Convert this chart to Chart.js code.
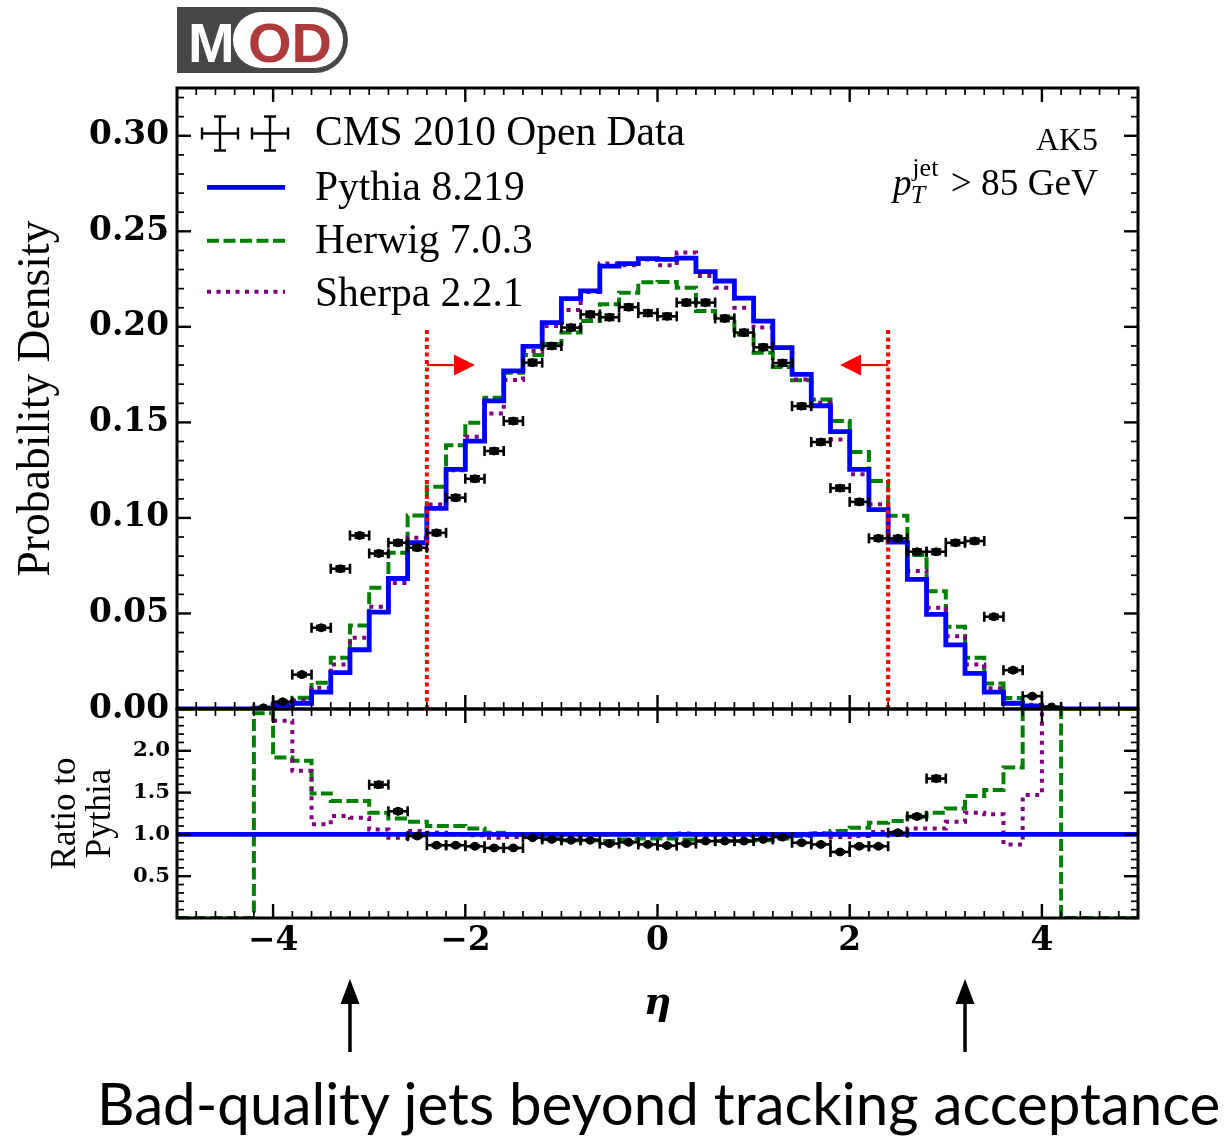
<!DOCTYPE html>
<html>
<head>
<meta charset="utf-8">
<script src="https://cdn.jsdelivr.net/npm/chart.js@4.4.0/dist/chart.umd.min.js"></script>
<style>
html,body{margin:0;padding:0;background:#fff;}
#wrap{position:relative;width:1228px;height:1137px;overflow:hidden;background:#fff;}
canvas{position:absolute;left:0;top:0;}
#logo{position:absolute;left:177px;top:7px;width:171px;height:66px;background:#474747;border-radius:0 33px 33px 0;}
#lm{position:absolute;left:11px;top:7.6px;line-height:56px;font-size:56px;font-weight:bold;font-family:'Liberation Sans',sans-serif;color:#fff;}
#pill{position:absolute;left:56px;top:4.7px;width:110px;height:56.6px;background:#fff;border-radius:28.3px;}
#od{position:absolute;left:15px;top:2.9px;line-height:56px;font-size:56px;font-weight:bold;font-family:'Liberation Sans',sans-serif;color:#ad3b3b;}
#caption{position:absolute;left:97px;white-space:nowrap;font-family:Lato,sans-serif;color:#000;}
</style>
</head>
<body>
<div id="wrap">
  <canvas id="main" width="1228" height="1137"></canvas>
  <canvas id="ratio" width="1228" height="1137"></canvas>
  <div id="logo"><span id="lm">M</span><div id="pill"><span id="od">OD</span></div></div>
  <div id="caption">Bad-quality jets beyond tracking acceptance</div>
</div>
<script>
// ---------------- data ----------------
const binCenters = [-4.9,-4.7,-4.5,-4.3,-4.1,-3.9,-3.7,-3.5,-3.3,-3.1,-2.9,-2.7,-2.5,-2.3,-2.1,-1.9,-1.7,-1.5,-1.3,-1.1,-0.9,-0.7,-0.5,-0.3,-0.1,
                    0.1,0.3,0.5,0.7,0.9,1.1,1.3,1.5,1.7,1.9,2.1,2.3,2.5,2.7,2.9,3.1,3.3,3.5,3.7,3.9,4.1,4.3,4.5,4.7,4.9];
const binHalfWidth = 0.1;

const pythia = [0,0,0,0.0001,0.0005,0.0020,0.0030,0.0088,0.0190,0.0310,0.0507,0.0683,0.0870,0.1050,0.1254,0.1402,0.1613,0.1770,0.1898,0.2022,0.2148,0.2188,0.2318,0.2331,0.2357,
                0.2353,0.2360,0.2289,0.2240,0.2150,0.2030,0.1891,0.1751,0.1587,0.1452,0.1254,0.1043,0.0873,0.0678,0.0495,0.0336,0.0186,0.0088,0.0030,0.0015,0.0003,0.0001,0,0,0];
const herwig = [0,0,0,0,0.0008,0.0030,0.0059,0.0137,0.0268,0.0437,0.0634,0.0818,0.1013,0.1163,0.1380,0.1498,0.1629,0.1760,0.1853,0.1910,0.1970,0.2030,0.2118,0.2179,0.2233,
                0.2235,0.2205,0.2083,0.2048,0.1960,0.1865,0.1790,0.1720,0.1620,0.1507,0.1345,0.1193,0.1011,0.0806,0.0616,0.0430,0.0268,0.0134,0.0057,0.0018,0.0006,0,0,0,0];
const sherpa = [0,0,0,0,0.0003,0.0030,0.0045,0.0111,0.0233,0.0373,0.0535,0.0660,0.0896,0.1070,0.1250,0.1425,0.1547,0.1722,0.1873,0.2004,0.2088,0.2182,0.2332,0.2322,0.2353,
                0.2322,0.2389,0.2266,0.2205,0.2100,0.1996,0.1890,0.1725,0.1603,0.1411,0.1228,0.1071,0.0885,0.0722,0.0530,0.0381,0.0233,0.0108,0.0027,0.0022,0.0008,0,0,0,0];
const cmsData = [null,null,null,null,0.0006,0.0038,0.0180,0.0425,0.0734,0.0908,0.0814,0.0870,0.0844,0.0922,0.1106,0.1205,0.1350,0.1507,0.1813,0.1900,0.1996,0.2065,0.2050,0.2103,0.2072,
                 0.2055,0.2127,0.2127,0.2044,0.1970,0.1893,0.1811,0.1585,0.1397,0.1156,0.1084,0.0893,0.0893,0.0823,0.0823,0.0870,0.0879,0.0483,0.0203,0.0067,0.0011,null,null,null,null];
const cmsErr = [0,0,0,0,0.0003,0.0005,0.0008,0.0010,0.0012,0.0012,0.0012,0.0012,0.0012,0.0012,0.0013,0.0013,0.0013,0.0013,0.0014,0.0014,0.0014,0.0014,0.0014,0.0014,0.0014,
                0.0014,0.0014,0.0014,0.0014,0.0014,0.0014,0.0014,0.0013,0.0013,0.0013,0.0013,0.0012,0.0012,0.0012,0.0012,0.0012,0.0012,0.0010,0.0008,0.0005,0.0003,0,0,0,0];

const ratioHerwig = [0,0,0,0,2.45,1.92,1.88,1.49,1.40,1.40,1.26,1.19,1.15,1.10,1.10,1.07,1.02,1.00,0.97,0.95,0.93,0.93,0.92,0.94,0.95,
                     0.95,0.94,0.92,0.92,0.92,0.93,0.95,0.98,1.01,1.04,1.08,1.14,1.16,1.21,1.26,1.31,1.46,1.53,1.80,3.00,3.00,0,0,0,0];
const ratioSherpa = [null,null,null,null,null,2.36,1.76,1.12,1.22,1.20,1.06,0.96,1.04,1.02,1.00,0.99,0.96,0.97,0.99,0.99,0.97,1.00,1.00,1.00,1.00,
                     0.99,1.01,0.99,0.98,0.98,0.98,1.00,0.99,1.01,0.97,0.98,1.03,1.02,1.07,1.07,1.15,1.26,1.24,0.88,1.47,3.00,null,null,null,null];
const ratioData = [null,null,null,null,null,null,null,null,null,null,1.595,1.276,0.98,0.87,0.87,0.858,0.838,0.838,0.96,0.94,0.93,0.93,0.89,0.905,0.88,
                   0.866,0.89,0.92,0.92,0.92,0.94,0.967,0.90,0.88,0.79,0.858,0.858,1.02,1.215,1.668,null,null,null,null,null,null,null,null,null,null];
const ratioDataErr = [0,0,0,0,0,0,0,0,0,0,0.03,0.02,0.015,0.012,0.012,0.01,0.01,0.01,0.01,0.01,0.01,0.01,0.01,0.01,0.01,
                      0.01,0.01,0.01,0.01,0.01,0.01,0.01,0.01,0.01,0.01,0.012,0.012,0.015,0.02,0.03,0,0,0,0,0,0,0,0,0,0];
const pythiaReference = 1.0;

const xTickValues = [-4,-2,0,2,4];
const xTickLabels = ['\u22124','\u22122','0','2','4'];
const yTickValues = [0,0.05,0.10,0.15,0.20,0.25,0.30];
const yTickLabels = ['0.00','0.05','0.10','0.15','0.20','0.25','0.30'];
const ratioTickValues = [0.5,1.0,1.5,2.0];
const ratioTickLabels = ['0.5','1.0','1.5','2.0'];

const legendLabels = ['CMS 2010 Open Data','Pythia 8.219','Herwig 7.0.3','Sherpa 2.2.1'];
const jetAlgoLabel = 'AK5';
const cutEta = 2.4, cutLineTop = 0.2, cutArrowY = 0.18, cutArrowLen = 0.5;
const badJetEta = 3.2;

// ---------------- styles ----------------
const C_BLUE = '#0000ff', C_GREEN = '#008000', C_PURPLE = '#800080', C_RED = '#ff0000';
const SERIF = "'Liberation Serif', serif";
const TICKSERIF = "'DejaVu Serif', serif";
function fitSize(text, style, family, target){
  const c = document.createElement('canvas').getContext('2d');
  c.font = style + ' 100px ' + family;
  return 100 * target / c.measureText(text).width;
}
const tickSize = fitSize('0.30','bold',TICKSERIF,80);
const ratioTickSize = fitSize('2.0','bold',TICKSERIF,37);
const legendSize = fitSize(legendLabels[0],'normal',SERIF,370);
const annSize = fitSize(jetAlgoLabel,'normal',SERIF,62);
const yTitleSize = fitSize('Probability Density','normal',SERIF,356);
const ratioTitleSize = fitSize('Ratio to','normal',SERIF,112);
const capSize = fitSize('Bad-quality jets beyond tracking acceptance','normal','Lato',1125);

const cap = document.getElementById('caption');
cap.style.fontSize = capSize + 'px';
cap.style.lineHeight = (capSize*1.2) + 'px';
cap.style.top = (1125 - 0.987*capSize) + 'px';

Chart.defaults.color = '#000';
Chart.defaults.animation = false;

function histPoints(vals){
  const pts = [];
  vals.forEach((v,i)=>{
    const lo = binCenters[i]-binHalfWidth, hi = binCenters[i]+binHalfWidth;
    if (v === null){ pts.push({x:lo,y:null}); return; }
    pts.push({x:lo,y:v},{x:hi,y:v});
  });
  return pts;
}
function pointData(vals){ return binCenters.map((c,i)=>({x:c,y:vals[i]})); }

function seg(ctx,x0,y0,x1,y1){ ctx.beginPath(); ctx.moveTo(x0,y0); ctx.lineTo(x1,y1); ctx.stroke(); }

// frame + inward ticks
const framePlugin = {
  id:'frame',
  afterDraw(chart, args, o){
    const {ctx, chartArea:a, scales:{x,y}} = chart;
    ctx.save();
    ctx.strokeStyle = '#000';
    for (let k=0;k<=50;k++){
      const v = -5 + 0.2*k, px = x.getPixelForValue(v);
      const major = (k % 10 === 5);
      const len = major ? 14 : 7;
      ctx.lineWidth = major ? 2.4 : 1.7;
      seg(ctx,px,a.bottom,px,a.bottom-len);
      seg(ctx,px,a.top,px,a.top+len);
    }
    for (let k=0;k<=o.yCount;k++){
      const v = k*o.yMinor, py = y.getPixelForValue(v);
      if (py < a.top-0.5) continue;
      const major = (k % 5 === 0);
      const len = major ? 14 : 7;
      ctx.lineWidth = major ? 2.4 : 1.7;
      seg(ctx,a.left,py,a.left+len,py);
      seg(ctx,a.right,py,a.right-len,py);
    }
    ctx.lineWidth = 3;
    ctx.strokeRect(a.left,a.top,a.right-a.left,a.bottom-a.top);
    ctx.restore();
  }
};

// error bars for data
const errPlugin = {
  id:'err',
  afterDatasetsDraw(chart, args, o){
    const {ctx, chartArea:a, scales:{x,y}} = chart;
    ctx.save();
    ctx.beginPath(); ctx.rect(a.left,a.top,a.right-a.left,a.bottom-a.top); ctx.clip();
    ctx.strokeStyle = '#000'; ctx.lineWidth = 2.6;
    o.values.forEach((v,i)=>{
      if (v === null) return;
      const cx = x.getPixelForValue(binCenters[i]);
      const x0 = x.getPixelForValue(binCenters[i]-binHalfWidth);
      const x1 = x.getPixelForValue(binCenters[i]+binHalfWidth);
      const py = y.getPixelForValue(v);
      const y0 = y.getPixelForValue(v - o.errors[i]);
      const y1 = y.getPixelForValue(v + o.errors[i]);
      seg(ctx,x0,py,x1,py);
      seg(ctx,x0,py-5,x0,py+5); seg(ctx,x1,py-5,x1,py+5);
      seg(ctx,cx,y0,cx,y1);
      seg(ctx,cx-5,y0,cx+5,y0); seg(ctx,cx-5,y1,cx+5,y1);
    });
    ctx.restore();
  }
};

// legend + annotations + cut arrows on main panel
const mainDeco = {
  id:'mainDeco',
  afterDraw(chart){
    const {ctx, scales:{x,y}} = chart;
    ctx.save();
    // legend symbols
    ctx.strokeStyle = '#000'; ctx.lineWidth = 2.4;
    [220,270].forEach(cx=>{
      const cy = 133.5;
      seg(ctx,cx-18,cy,cx+18,cy); seg(ctx,cx,cy-17,cx,cy+17);
      seg(ctx,cx-18,cy-6,cx-18,cy+6); seg(ctx,cx+18,cy-6,cx+18,cy+6);
      seg(ctx,cx-6,cy-17,cx+6,cy-17); seg(ctx,cx-6,cy+17,cx+6,cy+17);
    });
    ctx.lineWidth = 4.8;
    ctx.strokeStyle = C_BLUE; seg(ctx,207,187.3,285,187.3);
    ctx.lineWidth = 4;
    ctx.strokeStyle = C_GREEN; ctx.setLineDash([12,4.5]); seg(ctx,207,240.7,285,240.7);
    ctx.strokeStyle = C_PURPLE; ctx.setLineDash([4,5.5]); seg(ctx,207,291.7,285,291.7);
    ctx.setLineDash([]);
    ctx.fillStyle = '#000';
    ctx.font = legendSize + 'px ' + SERIF;
    ctx.textAlign = 'left'; ctx.textBaseline = 'alphabetic';
    const base = [145,200,253,306];
    legendLabels.forEach((t,i)=>ctx.fillText(t,315,base[i]));
    // AK5
    ctx.font = annSize + 'px ' + SERIF;
    ctx.textAlign = 'right';
    ctx.fillText(jetAlgoLabel,1098,150);
    // p_T^jet > 85 GeV
    const tail = ' > 85 GeV';
    const measure = (s)=>{
      ctx.font = s+'px '+SERIF; const wTail = ctx.measureText(tail).width;
      ctx.font = 'italic '+s+'px '+SERIF; const wp = ctx.measureText('p').width;
      ctx.font = 'italic '+(0.7*s)+'px '+SERIF; const wT = ctx.measureText('T').width;
      ctx.font = (0.7*s)+'px '+SERIF; const wj = ctx.measureText('jet').width;
      const wScript = Math.max(wT, wj) + 0.1*s;
      return {wTail, wp, wScript, total: wTail+wp+wScript};
    };
    const s = annSize * 205 / measure(annSize).total;
    const m = measure(s);
    let px = 1098 - m.total;
    const bl = 195;
    ctx.textAlign = 'left';
    ctx.font = 'italic '+s+'px '+SERIF; ctx.fillText('p',px,bl); px += m.wp;
    ctx.font = 'italic '+(0.7*s)+'px '+SERIF; ctx.fillText('T',px-0.02*s,bl+0.22*s);
    ctx.font = (0.7*s)+'px '+SERIF; ctx.fillText('jet',px+0.02*s,bl-0.5*s);
    px += m.wScript;
    ctx.font = s+'px '+SERIF; ctx.fillText(tail,px,bl);
    // cut arrows
    ctx.strokeStyle = C_RED; ctx.fillStyle = C_RED; ctx.lineWidth = 2.2;
    [-1,1].forEach(sgn=>{
      const xs = x.getPixelForValue(sgn*cutEta);
      const xe = x.getPixelForValue(sgn*(cutEta-cutArrowLen));
      const py = y.getPixelForValue(cutArrowY);
      const dir = Math.sign(xe-xs);
      const head = 21;
      seg(ctx,xs,py,xe-dir*head,py);
      ctx.beginPath(); ctx.moveTo(xe,py); ctx.lineTo(xe-dir*head,py-10.5); ctx.lineTo(xe-dir*head,py+10.5); ctx.closePath(); ctx.fill();
    });
    ctx.restore();
  }
};

const ratioDeco = {
  id:'ratioDeco',
  afterDraw(chart){
    const {ctx, scales:{x}} = chart;
    ctx.save();
    ctx.strokeStyle = '#000'; ctx.fillStyle = '#000'; ctx.lineWidth = 3.5;
    [-badJetEta, badJetEta].forEach(v=>{
      const px = x.getPixelForValue(v);
      seg(ctx,px,1052,px,1000);
      ctx.beginPath(); ctx.moveTo(px,979); ctx.lineTo(px-9.5,1004); ctx.lineTo(px+9.5,1004); ctx.closePath(); ctx.fill();
    });
    ctx.restore();
  }
};

const lineBase = {pointRadius:0, fill:false, tension:0, spanGaps:false, borderJoinStyle:'miter', borderCapStyle:'butt'};

// ---------------- main panel ----------------
new Chart(document.getElementById('main'), {
  type:'line',
  data:{datasets:[
    Object.assign({label:'cut-', data:[{x:-cutEta,y:0},{x:-cutEta,y:cutLineTop}], borderColor:C_RED, borderWidth:4, borderDash:[4,3.5], order:0}, lineBase),
    Object.assign({label:'cut+', data:[{x:cutEta,y:0},{x:cutEta,y:cutLineTop}], borderColor:C_RED, borderWidth:4, borderDash:[4,3.5], order:0}, lineBase),
    {label:legendLabels[0], type:'scatter', data:pointData(cmsData), pointRadius:4, pointBackgroundColor:'#000', pointBorderColor:'#000', showLine:false, order:1},
    Object.assign({label:legendLabels[1], data:histPoints(pythia), borderColor:C_BLUE, borderWidth:4.8, order:2}, lineBase),
    Object.assign({label:legendLabels[3], data:histPoints(sherpa), borderColor:C_PURPLE, borderWidth:4, borderDash:[4,5.5], order:3}, lineBase),
    Object.assign({label:legendLabels[2], data:histPoints(herwig), borderColor:C_GREEN, borderWidth:4, borderDash:[12,4.5], order:4}, lineBase)
  ]},
  options:{
    responsive:false, devicePixelRatio:1, animation:false,
    layout:{padding:{left:0, top:88, right:90, bottom:1137-709}},
    plugins:{legend:{display:false}, tooltip:{enabled:false},
      frame:{yMinor:0.01, yCount:32},
      err:{values:cmsData, errors:cmsErr}},
    scales:{
      x:{type:'linear', min:-5, max:5, display:false},
      y:{type:'linear', min:0, max:0.325,
        afterFit(s){ s.width = 177; },
        afterBuildTicks(s){ s.ticks = yTickValues.map(v=>({value:v})); },
        grid:{display:false, drawTicks:false}, border:{display:false},
        ticks:{autoSkip:false, padding:8, font:{family:TICKSERIF, weight:'bold', size:tickSize}, color:'#000',
               callback:(v,i)=>yTickLabels[i]},
        title:{display:true, text:'Probability Density', color:'#000',
               font:{family:SERIF, size:yTitleSize, lineHeight:1.2}, padding:{top:37-0.6*yTitleSize, bottom:0}}
      }
    }
  },
  plugins:[errPlugin, framePlugin, mainDeco]
});

// ---------------- ratio panel ----------------
new Chart(document.getElementById('ratio'), {
  type:'line',
  data:{datasets:[
    {label:'data ratio', type:'scatter', data:pointData(ratioData), pointRadius:4, pointBackgroundColor:'#000', pointBorderColor:'#000', showLine:false, order:1},
    Object.assign({label:'Pythia ref', data:[{x:-5,y:pythiaReference},{x:5,y:pythiaReference}], borderColor:C_BLUE, borderWidth:4.8, order:2}, lineBase),
    Object.assign({label:'Sherpa ratio', data:histPoints(ratioSherpa), borderColor:C_PURPLE, borderWidth:4, borderDash:[4,5.5], order:3}, lineBase),
    Object.assign({label:'Herwig ratio', data:histPoints(ratioHerwig), borderColor:C_GREEN, borderWidth:4, borderDash:[12,4.5], order:4}, lineBase)
  ]},
  options:{
    responsive:false, devicePixelRatio:1, animation:false,
    layout:{padding:{left:0, top:709, right:90, bottom:1137-918-110}},
    plugins:{legend:{display:false}, tooltip:{enabled:false},
      frame:{yMinor:0.1, yCount:25},
      err:{values:ratioData, errors:ratioDataErr}},
    scales:{
      x:{type:'linear', min:-5, max:5,
        afterFit(s){ s.height = 110; },
        afterBuildTicks(s){ s.ticks = xTickValues.map(v=>({value:v})); },
        grid:{display:false, drawTicks:false}, border:{display:false},
        ticks:{autoSkip:false, maxRotation:0, padding:4, font:{family:TICKSERIF, weight:'bold', size:tickSize}, color:'#000',
               callback:(v,i)=>xTickLabels[i]},
        title:{display:true, text:'\u03b7', color:'#000',
               font:{family:TICKSERIF, size:38, weight:'bold', style:'italic', lineHeight:1.2}, padding:{top:0,bottom:1}}
      },
      y:{type:'linear', min:0, max:2.5,
        afterFit(s){ s.width = 177; },
        afterBuildTicks(s){ s.ticks = ratioTickValues.map(v=>({value:v})); },
        grid:{display:false, drawTicks:false}, border:{display:false},
        ticks:{autoSkip:false, padding:7, font:{family:TICKSERIF, weight:'bold', size:ratioTickSize}, color:'#000',
               callback:(v,i)=>ratioTickLabels[i]},
        title:{display:true, text:['Ratio to','Pythia'], color:'#000',
               font:{family:SERIF, size:ratioTitleSize, lineHeight:'35px'}, padding:{top:66-17.5, bottom:0}}
      }
    }
  },
  plugins:[errPlugin, framePlugin, ratioDeco]
});
</script>
</body>
</html>
